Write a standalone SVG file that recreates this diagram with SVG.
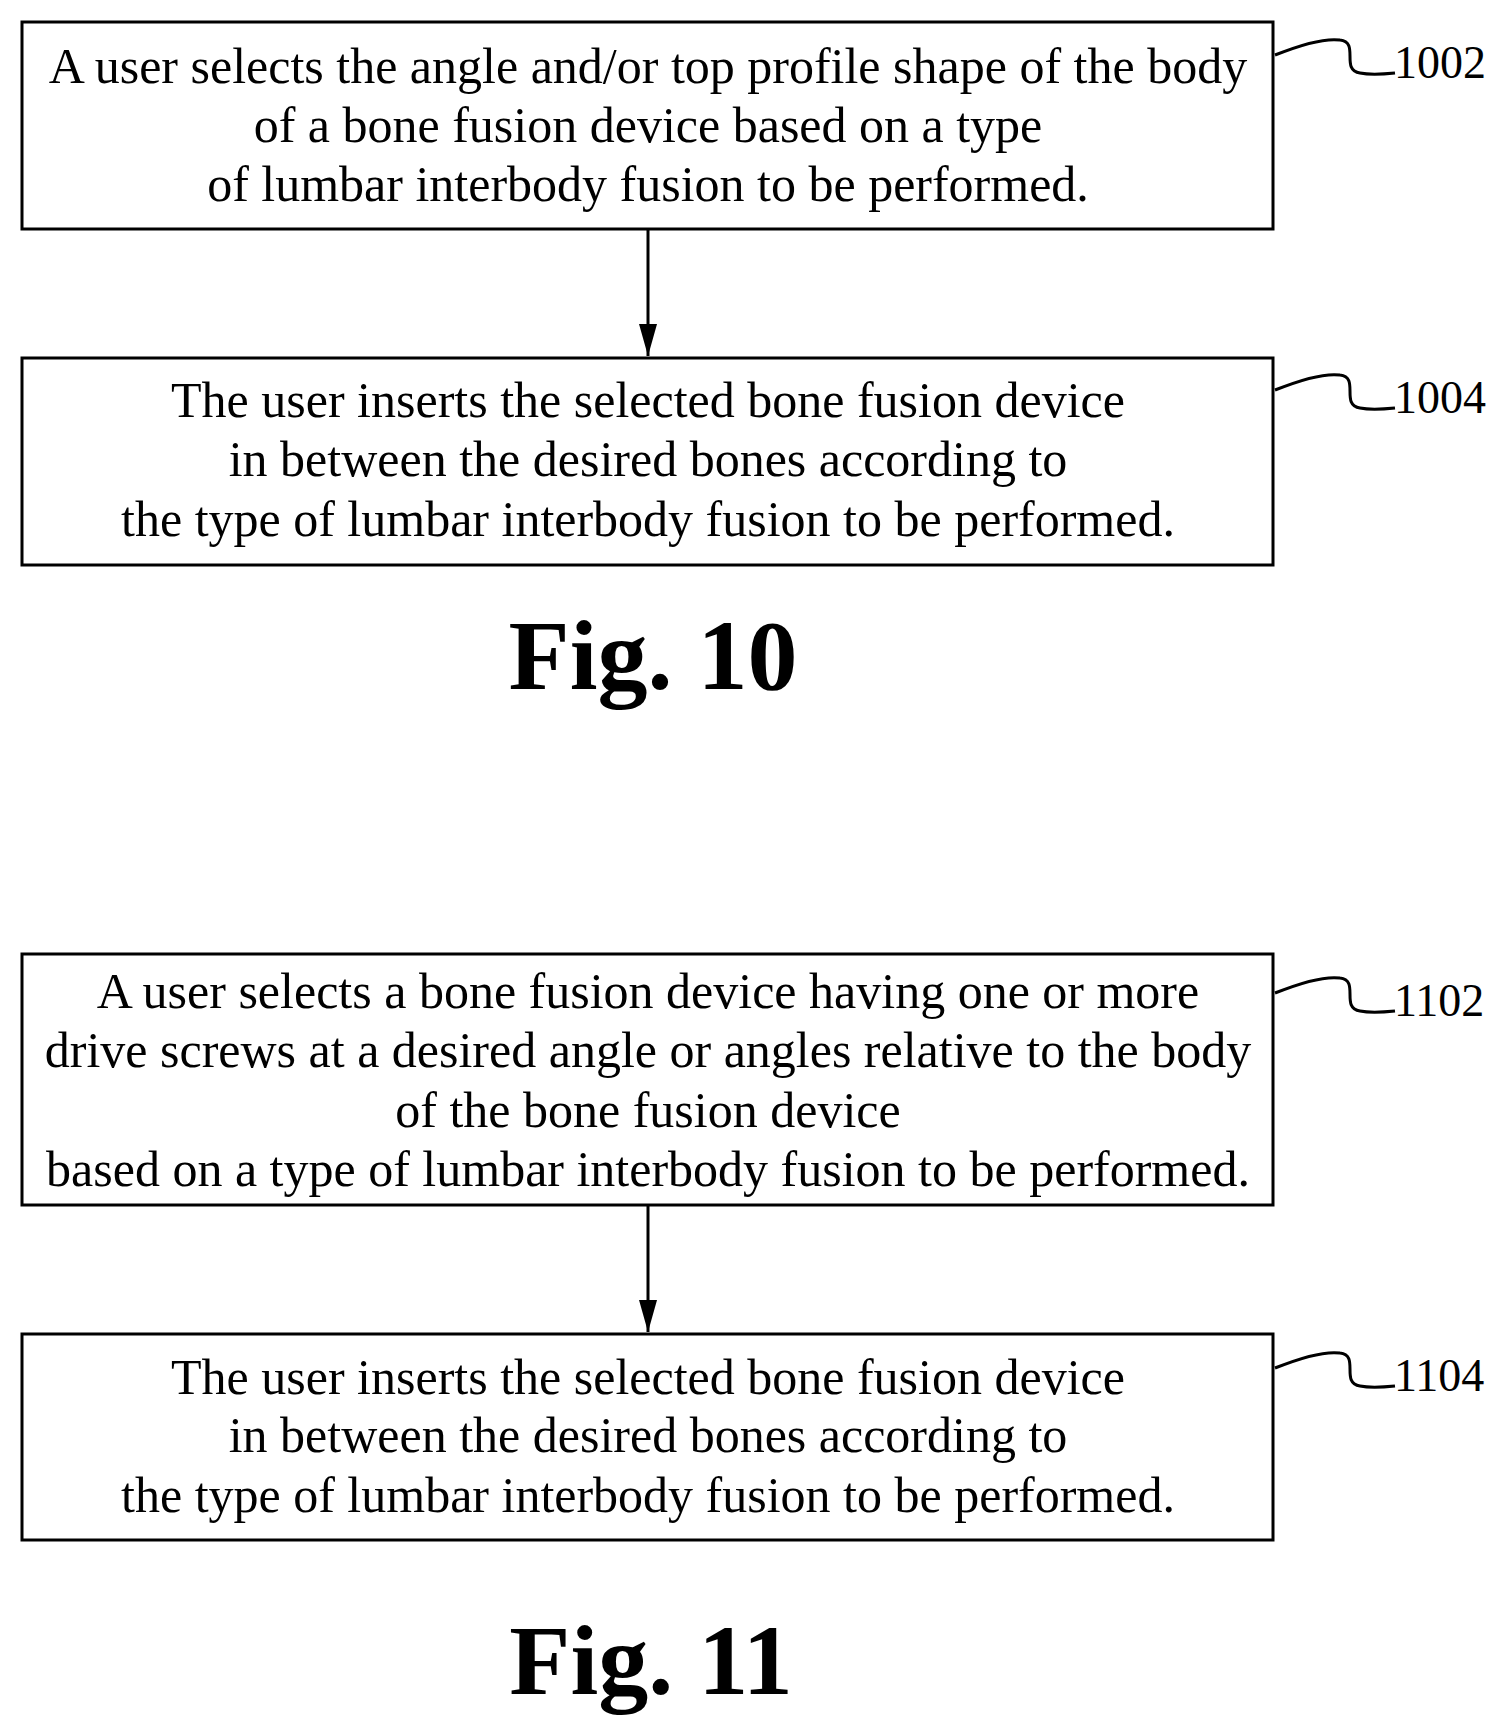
<svg xmlns="http://www.w3.org/2000/svg" width="1506" height="1730" viewBox="0 0 1506 1730">
<style>
.b{fill:#fff;stroke:#000;stroke-width:3}
.t{font-family:"Liberation Serif",serif;font-size:50px;text-anchor:middle}
.l{font-family:"Liberation Serif",serif;font-size:46px}
.f{font-family:"Liberation Serif",serif;font-size:100px;font-weight:bold;text-anchor:middle}
.s{fill:none;stroke:#000;stroke-width:3}
</style>
<defs><marker id="a" markerWidth="32" markerHeight="18" refX="32" refY="9" orient="auto" markerUnits="userSpaceOnUse" viewBox="0 0 32 18"><path d="M0,0L32,9L0,18z"/></marker></defs>
<rect width="1506" height="1730" fill="#fff"/>
<g id="n1002"><rect class="b" x="22" y="22" width="1251" height="207"/>
<text class="t" x="648" y="83">A user selects the angle and/or top profile shape of the body</text>
<text class="t" x="648" y="142">of a bone fusion device based on a type</text>
<text class="t" x="648" y="201">of lumbar interbody fusion to be performed.</text>
<path class="s" d="M1275,55 C1300,45 1325,38 1340,40 C1360,42 1340,70 1360,73 C1370,75 1385,74 1395,73"/>
<text class="l" x="1394" y="78">1002</text></g>
<g id="n1004"><rect class="b" x="22" y="358" width="1251" height="207"/>
<text class="t" x="648" y="417">The user inserts the selected bone fusion device</text>
<text class="t" x="648" y="476">in between the desired bones according to</text>
<text class="t" x="648" y="536">the type of lumbar interbody fusion to be performed.</text>
<path class="s" d="M1275,390 C1300,380 1325,373 1340,375 C1360,377 1340,405 1360,408 C1370,410 1385,409 1395,408"/>
<text class="l" x="1394" y="413">1004</text></g>
<g id="n1102"><rect class="b" x="22" y="954" width="1251" height="251"/>
<text class="t" x="648" y="1008">A user selects a bone fusion device having one or more</text>
<text class="t" x="648" y="1067">drive screws at a desired angle or angles relative to the body</text>
<text class="t" x="648" y="1127">of the bone fusion device</text>
<text class="t" x="648" y="1186">based on a type of lumbar interbody fusion to be performed.</text>
<path class="s" d="M1275,993 C1300,983 1325,976 1340,978 C1360,980 1340,1008 1360,1011 C1370,1013 1385,1012 1395,1011"/>
<text class="l" x="1394" y="1016">1102</text></g>
<g id="n1104"><rect class="b" x="22" y="1334" width="1251" height="206"/>
<text class="t" x="648" y="1394">The user inserts the selected bone fusion device</text>
<text class="t" x="648" y="1452">in between the desired bones according to</text>
<text class="t" x="648" y="1512">the type of lumbar interbody fusion to be performed.</text>
<path class="s" d="M1275,1368 C1300,1358 1325,1351 1340,1353 C1360,1355 1340,1383 1360,1386 C1370,1388 1385,1387 1395,1386"/>
<text class="l" x="1394" y="1391">1104</text></g>
<g id="connectors">
<line class="s" x1="648" y1="230" x2="648" y2="356" marker-end="url(#a)"/>
<line class="s" x1="648" y1="1206" x2="648" y2="1332" marker-end="url(#a)"/>
</g>
<text class="f" x="653" y="689">Fig. 10</text>
<text class="f" x="651" y="1694">Fig. 11</text>
</svg>
